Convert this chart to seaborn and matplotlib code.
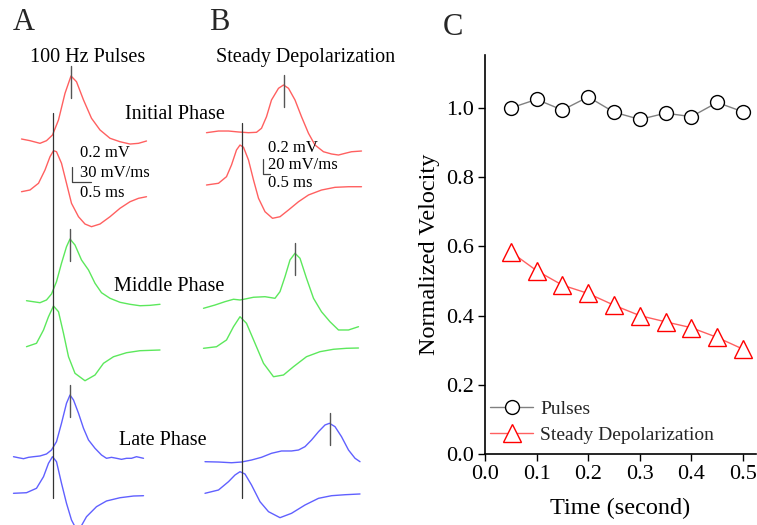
import numpy as np
import pandas as pd
import matplotlib
matplotlib.use("Agg")
import matplotlib.pyplot as plt
import seaborn as sns

# ---------------- Panel C data ----------------
time_s = [0.05, 0.10, 0.15, 0.20, 0.25, 0.30, 0.35, 0.40, 0.45, 0.50]
pulses_vel = [1.000, 1.025, 0.994, 1.032, 0.988, 0.967, 0.985, 0.975, 1.016, 0.989]
steady_vel = [0.584, 0.530, 0.488, 0.464, 0.430, 0.400, 0.382, 0.365, 0.337, 0.303]
x_ticks = [0.0, 0.1, 0.2, 0.3, 0.4, 0.5]
y_ticks = [0.0, 0.2, 0.4, 0.6, 0.8, 1.0]

# ---------------- Panel A traces (time in ms, V in mV, dV/dt in mV/ms) ----------------
a_init_v_t = [-0.63, -0.46, -0.26, -0.13, -0.01, 0.11, 0.24, 0.36, 0.47, 0.61, 0.77, 0.94, 1.14, 1.34, 1.54, 1.71, 1.87]
a_init_v = [0, -0.021, -0.054, -0.021, 0.05, 0.238, 0.571, 0.788, 0.716, 0.488, 0.259, 0.113, 0.009, -0.034, -0.063, -0.054, -0.025]
a_init_d_t = [-0.63, -0.46, -0.29, -0.16, -0.06, 0.01, 0.07, 0.17, 0.27, 0.37, 0.51, 0.64, 0.77, 0.94, 1.14, 1.34, 1.54, 1.71, 1.87]
a_init_d = [0, 3.2, 15.8, 40.7, 65.6, 76.9, 75.0, 53.3, 15.8, -21.8, -46.9, -60.6, -65.6, -60.6, -46.9, -31.1, -18.8, -12.4, -9.4]

a_mid_v_t = [-0.53, -0.39, -0.26, -0.13, -0.03, 0.07, 0.17, 0.27, 0.34, 0.44, 0.57, 0.71, 0.84, 0.97, 1.14, 1.34, 1.54, 1.74, 1.94, 2.14]
a_mid_v = [0, -0.013, -0.025, 0.009, 0.084, 0.238, 0.468, 0.675, 0.771, 0.696, 0.509, 0.384, 0.218, 0.100, 0.030, -0.020, -0.045, -0.063, -0.058, -0.045]
a_mid_d_t = [-0.53, -0.33, -0.19, -0.09, 0.01, 0.11, 0.21, 0.31, 0.44, 0.64, 0.84, 1.01, 1.21, 1.47, 1.74, 2.14]
a_mid_d = [0, 6.4, 31.3, 56.3, 76.3, 65.6, 25.1, -18.8, -49.9, -63.8, -53.1, -31.1, -18.8, -11.3, -7.5, -6.2]

a_late_v_t = [-0.79, -0.69, -0.59, -0.49, -0.39, -0.26, -0.13, -0.03, 0.07, 0.17, 0.27, 0.34, 0.41, 0.51, 0.61, 0.71, 0.84, 0.97, 1.07, 1.17, 1.27, 1.37, 1.47, 1.57, 1.67, 1.81]
a_late_v = [0, -0.013, -0.025, -0.008, 0, 0.009, 0.034, 0.084, 0.188, 0.418, 0.668, 0.771, 0.709, 0.543, 0.355, 0.209, 0.105, 0.021, -0.020, -0.008, -0.020, -0.033, -0.020, -0.020, 0, -0.020]
a_late_d_t = [-0.79, -0.53, -0.33, -0.19, -0.09, -0.01, 0.07, 0.17, 0.27, 0.37, 0.44, 0.52, 0.67, 0.87, 1.07, 1.34, 1.61, 1.81]
a_late_d = [0, 1.1, 9.4, 31.1, 56.3, 68.6, 59.3, 18.8, -18.8, -50.1, -62.6, -68.8, -43.9, -25.1, -14.4, -8.3, -5.1, -4.5]

# ---------------- Panel B traces ----------------
b_init_v_t = [-0.70, -0.46, -0.26, -0.06, 0.14, 0.30, 0.40, 0.50, 0.60, 0.74, 0.84, 0.94, 1.07, 1.20, 1.34, 1.47, 1.64, 1.80, 1.94, 2.07, 2.20, 2.40]
b_init_v = [0, 0.021, 0.021, 0.009, 0, 0.005, 0.055, 0.200, 0.409, 0.555, 0.596, 0.555, 0.409, 0.200, -0.008, -0.154, -0.238, -0.266, -0.279, -0.258, -0.238, -0.229]
b_init_d_t = [-0.70, -0.46, -0.30, -0.20, -0.10, -0.03, 0.04, 0.14, 0.24, 0.34, 0.47, 0.62, 0.77, 0.94, 1.14, 1.34, 1.60, 1.87, 2.14, 2.40]
b_init_d = [0, 2.3, 11.1, 26.7, 46.7, 53.3, 50.3, 33.3, 6.7, -17.7, -35.6, -44.4, -42.3, -33.3, -22.3, -13.3, -6.7, -3.1, -2.3, -2.3]

b_mid_v_t = [-0.76, -0.53, -0.33, -0.16, -0.03, 0.07, 0.24, 0.47, 0.67, 0.77, 0.87, 0.97, 1.07, 1.17, 1.30, 1.44, 1.60, 1.77, 1.94, 2.14, 2.34]
b_mid_v = [0, 0.041, 0.083, 0.113, 0.104, 0.116, 0.138, 0.145, 0.125, 0.208, 0.395, 0.604, 0.688, 0.625, 0.375, 0.125, -0.043, -0.168, -0.271, -0.271, -0.230]
b_mid_d_t = [-0.76, -0.50, -0.30, -0.16, -0.03, 0.10, 0.27, 0.44, 0.64, 0.84, 1.04, 1.30, 1.57, 1.84, 2.10, 2.34]
b_mid_d = [0, 2.1, 11.1, 28.8, 42.1, 33.3, 6.7, -20.0, -37.9, -35.6, -24.5, -11.2, -4.5, -1.3, 0, 0.4]

b_late_v_t = [-0.73, -0.46, -0.20, 0.00, 0.20, 0.40, 0.60, 0.80, 1.00, 1.14, 1.27, 1.40, 1.54, 1.67, 1.76, 1.87, 2.00, 2.14, 2.27, 2.37]
b_late_v = [0, -0.004, -0.013, -0.004, 0.021, 0.055, 0.105, 0.134, 0.134, 0.146, 0.188, 0.271, 0.375, 0.459, 0.480, 0.438, 0.313, 0.146, 0.043, 0]
b_late_d_t = [-0.73, -0.46, -0.26, -0.13, -0.03, 0.07, 0.20, 0.37, 0.54, 0.77, 1.00, 1.27, 1.54, 1.80, 2.07, 2.37]
b_late_d = [0, 4.4, 15.5, 24.4, 28.8, 25.7, 11.1, -11.2, -24.5, -32.5, -26.7, -15.6, -6.7, -3.2, -1.9, -0.9]

# ---------------- styling ----------------
sns.set_theme(style="ticks")
plt.rcParams["font.family"] = ["Liberation Serif", "DejaVu Serif"]

W, H = 757, 525
fig = plt.figure(figsize=(W / 100, H / 100), dpi=100)

RED, GREEN, BLUE = "#ff6060", "#5ce85c", "#6060ff"
PX_PER_MS = 50.0
PX_PER_MV = 80.0

# left drawing area in pixel coordinates (y downwards)
axL = fig.add_axes([0, 0, 400 / W, 1])
axL.set_xlim(0, 400)
axL.set_ylim(H, 0)
axL.axis("off")

A_REF, B_REF = 53.0, 241.5
traces = [
    # t, amp, ref_x, base_y, px per unit, color, is_voltage
    (a_init_v_t, a_init_v, A_REF, 139.0, PX_PER_MV, RED, True),
    (a_init_d_t, a_init_d, A_REF, 191.7, 16 / 30, RED, False),
    (a_mid_v_t, a_mid_v, A_REF, 300.7, PX_PER_MV, GREEN, True),
    (a_mid_d_t, a_mid_d, A_REF, 346.7, 16 / 30, GREEN, False),
    (a_late_v_t, a_late_v, A_REF, 456.7, PX_PER_MV, BLUE, True),
    (a_late_d_t, a_late_d, A_REF, 493.3, 16 / 30, BLUE, False),
    (b_init_v_t, b_init_v, B_REF, 132.7, PX_PER_MV, RED, True),
    (b_init_d_t, b_init_d, B_REF, 185.0, 0.75, RED, False),
    (b_mid_v_t, b_mid_v, B_REF, 308.3, PX_PER_MV, GREEN, True),
    (b_mid_d_t, b_mid_d, B_REF, 348.3, 0.75, GREEN, False),
    (b_late_v_t, b_late_v, B_REF, 461.7, PX_PER_MV, BLUE, True),
    (b_late_d_t, b_late_d, B_REF, 493.3, 0.75, BLUE, False),
]
for t, amp, rx, by, k, col, is_v in traces:
    t = np.asarray(t, float)
    amp = np.asarray(amp, float)
    xs = rx + t * PX_PER_MS
    ys = by - amp * k
    sns.lineplot(x=xs, y=ys, ax=axL, color=col, lw=1.0, sort=False,
                 estimator=None, legend=False, solid_joinstyle="round",
                 solid_capstyle="round")
    if is_v:
        i = int(np.argmax(amp))
        axL.plot([xs[i], xs[i]], [ys[i] - 10, ys[i] + 22], color="#555555", lw=1.0)

# reference vertical lines
axL.plot([A_REF, A_REF], [113, 498], color="#333333", lw=0.9)
axL.plot([B_REF, B_REF], [123, 498], color="#333333", lw=0.9)

# scale bars
axL.plot([71.7, 71.7, 90.7], [166.7, 181.7, 181.7], color="#444444", lw=0.9)
axL.plot([263.3, 263.3, 269.5], [159.0, 173.5, 173.5], color="#444444", lw=0.9)
sb = dict(fontsize=12, ha="left", va="baseline", color="black")
axL.text(80, 156.7, "0.2 mV", **sb)
axL.text(80, 176.7, "30 mV/ms", **sb)
axL.text(80, 196.7, "0.5 ms", **sb)
axL.text(268, 151.7, "0.2 mV", **sb)
axL.text(268, 169.0, "20 mV/ms", **sb)
axL.text(268, 186.7, "0.5 ms", **sb)

# labels
lab = dict(fontsize=14.5, ha="center", va="baseline", color="black")
axL.text(88, 62, "100 Hz Pulses", **lab)
axL.text(306, 62, "Steady Depolarization", **lab)
axL.text(174.5, 119, "Initial Phase", **lab)
axL.text(169, 290.7, "Middle Phase", **lab)
axL.text(163, 445, "Late Phase", **lab)
axL.text(13, 30, "A", fontsize=22, ha="left", va="baseline")
axL.text(209, 30, "B", fontsize=22, ha="left", va="baseline")
fig.text(443 / W, 1 - 35 / H, "C", fontsize=22, ha="left", va="baseline")

# ---------------- Panel C ----------------
axC = fig.add_axes([485 / W, (H - 454) / H, 271 / W, 399 / H])
sns.lineplot(x=time_s, y=pulses_vel, ax=axC, color="#808080", lw=1.0,
             marker="o", ms=10, mfc="white", mec="black", mew=1.0,
             label="Pulses", estimator=None)
sns.lineplot(x=time_s, y=steady_vel, ax=axC, color="#ff6060", lw=1.0,
             marker="^", ms=13, mfc="white", mec="red", mew=1.0,
             label="Steady Depolarization", estimator=None)
axC.set_xlim(0, 271 / 516)
axC.set_ylim(0, 399 / 346)
axC.set_xticks(x_ticks)
axC.set_yticks(y_ticks)
axC.set_xticklabels([f"{v:.1f}" for v in x_ticks])
axC.set_yticklabels([f"{v:.1f}" for v in y_ticks])
axC.tick_params(labelsize=16, length=5, width=1.0, color="black", labelcolor="black", pad=3)
axC.set_xlabel("Time (second)", fontsize=17.5, color="black", labelpad=10)
axC.set_ylabel("Normalized Velocity", fontsize=17.5, color="black", labelpad=4)
for s in ["top", "right"]:
    axC.spines[s].set_visible(False)
for s in ["left", "bottom"]:
    axC.spines[s].set_color("black")
    axC.spines[s].set_linewidth(1.2)
axC.set_facecolor("white")
axC.legend(loc="upper left", bbox_to_anchor=(0.02, 0.135), frameon=False,
           fontsize=14, handlelength=2.2, handletextpad=0.35, labelspacing=0.42,
           borderpad=0.0, borderaxespad=0.0)

fig.savefig("out.png", dpi=100, facecolor="white")
